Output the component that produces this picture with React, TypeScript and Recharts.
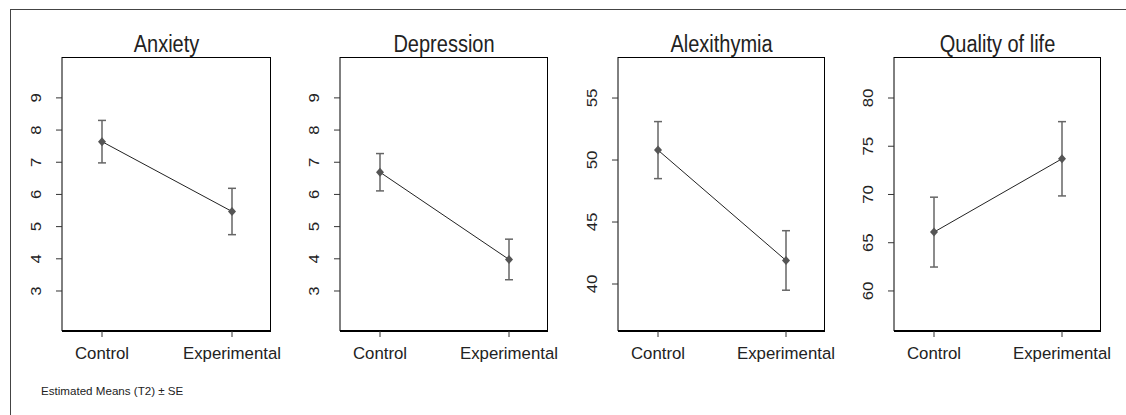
import React from "react";
import { LineChart, Line, XAxis, YAxis, ErrorBar } from "recharts";

const categories = ["Control", "Experimental"];

const anxietyMeans = [7.64, 5.47];
const anxietySE = [0.66, 0.72];
const depressionMeans = [6.69, 3.98];
const depressionSE = [0.58, 0.63];
const alexithymiaMeans = [50.8, 41.9];
const alexithymiaSE = [2.3, 2.4];
const qolMeans = [66.1, 73.7];
const qolSE = [3.62, 3.85];

const scoreTicks = [3, 4, 5, 6, 7, 8, 9];
const alexTicks = [40, 45, 50, 55];
const qolTicks = [60, 65, 70, 75, 80];

const footerText = "Estimated Means (T2) \u00b1 SE";

const FONT = '"Liberation Sans", Arial, sans-serif';
const W = 1126;
const H = 415;
const AXIS_W = 62;
const RIGHT_PAD = 24;
const PLOT_TOP = 57;
const PLOT_BOTTOM = 331;
const XAXIS_H = 40;
const LABEL_BASELINE = 359;

const panels = [
  { title: "Anxiety", means: anxietyMeans, se: anxietySE, ticks: scoreTicks, domain: [1.757, 10.27], plotLeft: 62, plotRight: 271 },
  { title: "Depression", means: depressionMeans, se: depressionSE, ticks: scoreTicks, domain: [1.757, 10.27], plotLeft: 340, plotRight: 548 },
  { title: "Alexithymia", means: alexithymiaMeans, se: alexithymiaSE, ticks: alexTicks, domain: [36.21, 58.31], plotLeft: 618, plotRight: 825 },
  { title: "Quality of life", means: qolMeans, se: qolSE, ticks: qolTicks, domain: [55.85, 84.25], plotLeft: 894, plotRight: 1101 },
];

function XTick(props: any) {
  const { x, payload } = props;
  return (
    <text x={x} y={LABEL_BASELINE} textAnchor="middle" fontFamily={FONT} fontSize={16.8} fill="#222">
      {payload.value}
    </text>
  );
}

function YTick(props: any) {
  const { y, payload } = props;
  const cx = AXIS_W - 26;
  return (
    <text
      transform={`translate(${cx},${y}) rotate(-90) scale(1.2,1)`}
      x={0}
      y={0}
      textAnchor="middle"
      dominantBaseline="central"
      fontFamily={FONT}
      fontSize={14}
      fill="#222"
    >
      {payload.value}
    </text>
  );
}

function diamond(props: any) {
  const { cx, cy, index } = props;
  return (
    <path
      key={`d-${index}`}
      d={`M${cx},${cy - 4.5}L${cx + 4},${cy}L${cx},${cy + 4.5}L${cx - 4},${cy}Z`}
      fill="#555"
    />
  );
}

function Panel({ p }: { p: any }) {
  const data = categories.map((c, i) => ({ group: c, mean: p.means[i], se: p.se[i] }));
  const left = p.plotLeft - AXIS_W;
  const width = p.plotRight - left + RIGHT_PAD;
  return (
    <>
      <div
        style={{
          position: "absolute",
          left: p.plotLeft,
          top: PLOT_TOP,
          width: p.plotRight - p.plotLeft,
          height: PLOT_BOTTOM - PLOT_TOP,
          borderTop: "1px solid #000",
          borderRight: "1px solid #000",
          boxSizing: "border-box",
        }}
      />
      <div style={{ position: "absolute", left, top: 0 }}>
        <LineChart
          width={width}
          height={H}
          data={data}
          margin={{ top: PLOT_TOP, right: RIGHT_PAD, bottom: H - PLOT_BOTTOM - XAXIS_H, left: 0 }}
        >
          <XAxis
            dataKey="group"
            type="category"
            padding={{ left: 40, right: 39 }}
            axisLine={{ stroke: "#000", strokeWidth: 2 }}
            tickLine={{ stroke: "#333" }}
            tickSize={6}
            height={XAXIS_H}
            tick={<XTick />}
            interval={0}
          />
          <YAxis
            type="number"
            domain={p.domain}
            ticks={p.ticks}
            allowDataOverflow
            width={AXIS_W}
            axisLine={{ stroke: "#000" }}
            tickLine={{ stroke: "#333" }}
            tickSize={6}
            tick={<YTick />}
            interval={0}
          />
          <Line
            dataKey="mean"
            stroke="#222"
            strokeWidth={1}
            dot={diamond}
            activeDot={false}
            isAnimationActive={false}
          >
            <ErrorBar dataKey="se" width={4} stroke="#666" strokeWidth={1.5} direction="y" />
          </Line>
        </LineChart>
      </div>
    </>
  );
}

export default function App() {
  return (
    <div style={{ position: "absolute", left: 0, top: 0, width: W, height: H, background: "#fff", overflow: "hidden" }}>
      <div
        style={{
          position: "absolute",
          left: 10,
          top: 9,
          width: W,
          height: H,
          borderLeft: "1px solid #444",
          borderTop: "1px solid #444",
        }}
      />
      {panels.map((p) => (
        <Panel key={p.title} p={p} />
      ))}
      <svg width={W} height={H} style={{ position: "absolute", left: 0, top: 0, pointerEvents: "none" }}>
        {panels.map((p) => (
          <text
            key={p.title}
            transform={`translate(${(p.plotLeft + p.plotRight) / 2},51.5) scale(1,1.15)`}
            textAnchor="middle"
            fontFamily={FONT}
            fontSize={20}
            fill="#222"
          >
            {p.title}
          </text>
        ))}
        <text x={41} y={395} fontFamily={FONT} fontSize={11.6} fill="#222">
          {footerText}
        </text>
      </svg>
    </div>
  );
}
